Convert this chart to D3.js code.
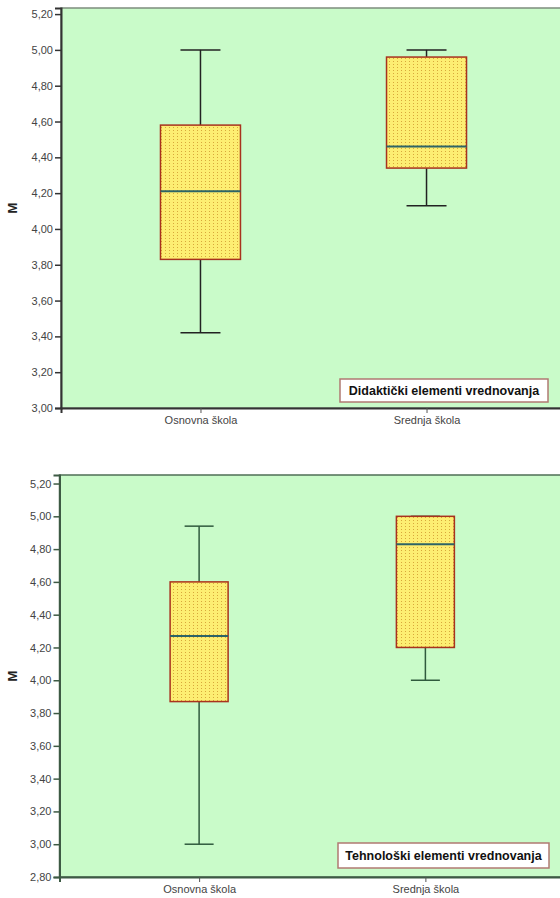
<!DOCTYPE html>
<meta charset="utf-8">
<style>
body { margin: 0; background: #fff; }
svg text { font-family: "Liberation Sans", Arial, sans-serif; }
.tick text { font-size: 11px; fill: #444; }
</style>
<body>
<svg id="chart" width="560" height="898"></svg>
<script src="https://cdn.jsdelivr.net/npm/d3@7"></script>
<script>
// categories and box statistics [min, q1, median, q3, max]
var categories = ["Osnovna škola", "Srednja škola"];
var didaktickiOsnovna = [3.42, 3.83, 4.21, 4.58, 5.00];
var didaktickiSrednja = [4.13, 4.34, 4.46, 4.96, 5.00];
var tehnoloskiOsnovna = [3.00, 3.87, 4.27, 4.60, 4.94];
var tehnoloskiSrednja = [4.00, 4.20, 4.83, 5.00, 5.00];
var yTicks1 = [3.0, 3.2, 3.4, 3.6, 3.8, 4.0, 4.2, 4.4, 4.6, 4.8, 5.0, 5.2];
var yTicks2 = [2.8, 3.0, 3.2, 3.4, 3.6, 3.8, 4.0, 4.2, 4.4, 4.6, 4.8, 5.0, 5.2];

var svg = d3.select("#chart");

// dotted yellow fill like the original
var defs = svg.append("defs");
var pat = defs.append("pattern")
    .attr("id", "dots")
    .attr("patternUnits", "userSpaceOnUse")
    .attr("width", 4)
    .attr("height", 3);
pat.append("rect").attr("width", 4).attr("height", 3).attr("fill", "#fdee72");
pat.append("rect").attr("x", 1).attr("y", 1).attr("width", 1).attr("height", 1).attr("fill", "#d8a83a");

var fmt = function(v) { return d3.format(".2f")(v).replace(".", ","); };

function drawChart(opt) {
  var g = svg.append("g");
  var y = d3.scaleLinear().domain(opt.yDomain).range([opt.bottom, opt.top]);
  var x = d3.scalePoint().domain(categories).range([opt.left, opt.right]).padding(0.617);

  g.append("rect")
      .attr("x", opt.left).attr("y", opt.top)
      .attr("width", opt.right - opt.left).attr("height", opt.bottom - opt.top)
      .attr("fill", "#c9fbc9")
      .attr("stroke", opt.frame).attr("stroke-width", 1.5);

  // y axis
  var yAxis = g.append("g")
      .attr("transform", "translate(" + opt.left + ",0)")
      .call(d3.axisLeft(y).tickValues(opt.ticks).tickFormat(fmt).tickSize(6).tickPadding(2));
  yAxis.select(".domain").attr("stroke", opt.axis).attr("stroke-width", 2);
  yAxis.selectAll(".tick line").attr("stroke", opt.axis).attr("stroke-width", 1.5);

  // x axis
  var xAxis = g.append("g")
      .attr("transform", "translate(0," + opt.bottom + ")")
      .call(d3.axisBottom(x).tickSize(5).tickPadding(3));
  xAxis.select(".domain").attr("stroke", opt.axis).attr("stroke-width", 2);
  xAxis.selectAll(".tick line").attr("stroke", "#555");

  g.append("text")
      .attr("transform", "translate(17," + ((opt.top + opt.bottom) / 2) + ") rotate(-90)")
      .attr("text-anchor", "middle")
      .attr("font-size", 13)
      .attr("font-weight", "bold")
      .attr("fill", "#222")
      .text("M");

  var boxes = g.selectAll(".box")
      .data(opt.stats)
      .enter().append("g")
      .attr("class", "box");

  var bw = opt.boxWidth;
  boxes.each(function(d, i) {
    var cx = x(categories[i]);
    var b = d3.select(this);
    // whiskers
    b.append("line")
        .attr("x1", cx).attr("x2", cx)
        .attr("y1", y(d[4])).attr("y2", y(d[3]))
        .attr("stroke", opt.whisker).attr("stroke-width", 1.5);
    b.append("line")
        .attr("x1", cx).attr("x2", cx)
        .attr("y1", y(d[1])).attr("y2", y(d[0]))
        .attr("stroke", opt.whisker).attr("stroke-width", 1.5);
    b.append("line")
        .attr("x1", cx - bw / 4).attr("x2", cx + bw / 4)
        .attr("y1", y(d[4])).attr("y2", y(d[4]))
        .attr("stroke", opt.whisker).attr("stroke-width", 1.5);
    b.append("line")
        .attr("x1", cx - bw / 4).attr("x2", cx + bw / 4)
        .attr("y1", y(d[0])).attr("y2", y(d[0]))
        .attr("stroke", opt.whisker).attr("stroke-width", 1.5);
    // box
    b.append("rect")
        .attr("x", cx - bw / 2).attr("y", y(d[3]))
        .attr("width", bw).attr("height", y(d[1]) - y(d[3]))
        .attr("fill", "url(#dots)")
        .attr("stroke", "#a8321e").attr("stroke-width", 1.5);
    b.append("line")
        .attr("x1", cx - bw / 2).attr("x2", cx + bw / 2)
        .attr("y1", y(d[2])).attr("y2", y(d[2]))
        .attr("stroke", "#2d6466").attr("stroke-width", 2);
  });

  // legend box
  g.append("rect")
      .attr("x", opt.legend[0]).attr("y", opt.legend[1])
      .attr("width", opt.legend[2]).attr("height", opt.legend[3])
      .attr("fill", "#fff")
      .attr("stroke", "#b07a72").attr("stroke-width", 1.5);
  g.append("text")
      .attr("x", opt.legend[0] + opt.legend[2] / 2)
      .attr("y", opt.legend[1] + opt.legend[3] / 2 + 4.5)
      .attr("text-anchor", "middle")
      .attr("font-size", 12.5)
      .attr("font-weight", "bold")
      .attr("fill", "#111")
      .text(opt.title);
}

drawChart({
  top: 8, bottom: 408, left: 61, right: 566,
  yDomain: [3.0, 5.234], ticks: yTicks1,
  stats: [didaktickiOsnovna, didaktickiSrednja],
  boxWidth: 80,
  frame: "#7d8d7d", axis: "#333", whisker: "#222",
  legend: [340, 379, 208, 23],
  title: "Didaktički elementi vrednovanja"
});

drawChart({
  top: 475, bottom: 877, left: 59.5, right: 565,
  yDomain: [2.8, 5.252], ticks: yTicks2,
  stats: [tehnoloskiOsnovna, tehnoloskiSrednja],
  boxWidth: 58,
  frame: "#4f6f55", axis: "#3d5a44", whisker: "#2f5a3d",
  legend: [338, 843, 211, 25],
  title: "Tehnološki elementi vrednovanja"
});
</script>
</body>
